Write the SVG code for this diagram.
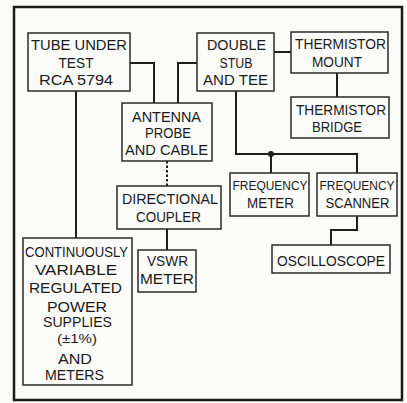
<svg xmlns="http://www.w3.org/2000/svg" width="407" height="403" viewBox="0 0 407 403">
<style>
.bg{fill:#fbfbf9}
.frame{fill:none;stroke:#1a1a1a;stroke-width:2.5}
.box{fill:#fbfbf9;stroke:#2a2a2a;stroke-width:1.5}
.ln{fill:none;stroke:#1e1e1e;stroke-width:2}
.dot{fill:none;stroke:#1e1e1e;stroke-width:2;stroke-dasharray:2.5 2}
text{font-family:"Liberation Sans",Arial,sans-serif;font-size:14.5px;fill:#1a1a1a;text-anchor:middle}
.sm{font-size:12.5px}
</style>
<rect class="bg" x="0" y="0" width="407" height="403"/>
<rect class="frame" x="14" y="7" width="388" height="393"/>
<g id="connectors">
<polyline class="ln" points="130,63 154,63 154,103"/>
<polyline class="ln" points="178,103 178,63 197,63"/>
<line class="ln" x1="76" y1="91" x2="76" y2="238"/>
<line class="dot" x1="167" y1="161" x2="167" y2="186"/>
<line class="ln" x1="167" y1="229" x2="167" y2="250"/>
<line class="ln" x1="274" y1="52" x2="291" y2="52"/>
<line class="ln" x1="337" y1="73" x2="337" y2="97"/>
<polyline class="ln" points="236,91 236,154 357,154 357,173"/>
<line class="ln" x1="271" y1="154" x2="271" y2="173"/>
<circle cx="271" cy="154" r="3" fill="#1e1e1e"/>
<polyline class="ln" points="357,216 357,230 331,230 331,245"/>
</g>
<g id="tube">
<rect class="box" x="28" y="33" width="102" height="58"/>
<text x="79" y="50" textLength="96" lengthAdjust="spacingAndGlyphs">TUBE UNDER</text>
<text x="76" y="68" textLength="35" lengthAdjust="spacingAndGlyphs">TEST</text>
<text x="76" y="85" textLength="74" lengthAdjust="spacingAndGlyphs">RCA 5794</text>
</g>
<g id="antenna">
<rect class="box" x="122" y="103" width="90" height="58"/>
<text x="166.5" y="122" textLength="69" lengthAdjust="spacingAndGlyphs">ANTENNA</text>
<text x="168" y="138" textLength="46" lengthAdjust="spacingAndGlyphs">PROBE</text>
<text x="166.5" y="155" textLength="83" lengthAdjust="spacingAndGlyphs">AND CABLE</text>
</g>
<g id="coupler">
<rect class="box" x="117" y="186" width="104" height="43"/>
<text x="170" y="204" textLength="96" lengthAdjust="spacingAndGlyphs">DIRECTIONAL</text>
<text x="168.5" y="222" textLength="65" lengthAdjust="spacingAndGlyphs">COUPLER</text>
</g>
<g id="vswr">
<rect class="box" x="138" y="250" width="58" height="42"/>
<text x="167.5" y="266" textLength="41" lengthAdjust="spacingAndGlyphs">VSWR</text>
<text x="167" y="284" textLength="54" lengthAdjust="spacingAndGlyphs">METER</text>
</g>
<g id="power">
<rect class="box" x="23" y="238" width="109" height="147"/>
<text x="76.5" y="257" textLength="103" lengthAdjust="spacingAndGlyphs">CONTINUOUSLY</text>
<text x="76" y="275" textLength="82" lengthAdjust="spacingAndGlyphs">VARIABLE</text>
<text x="75.5" y="293" textLength="93" lengthAdjust="spacingAndGlyphs">REGULATED</text>
<text x="77" y="312" textLength="60" lengthAdjust="spacingAndGlyphs">POWER</text>
<text x="77.5" y="327" textLength="69" lengthAdjust="spacingAndGlyphs">SUPPLIES</text>
<text x="77" y="343" style="font-size:12px" textLength="40" lengthAdjust="spacingAndGlyphs">(±1%)</text>
<text x="75" y="364" textLength="34" lengthAdjust="spacingAndGlyphs">AND</text>
<text x="74.5" y="380" textLength="59" lengthAdjust="spacingAndGlyphs">METERS</text>
</g>
<g id="stub">
<rect class="box" x="197" y="33" width="77" height="58"/>
<text x="236.5" y="50" textLength="59" lengthAdjust="spacingAndGlyphs">DOUBLE</text>
<text x="236" y="68" textLength="33" lengthAdjust="spacingAndGlyphs">STUB</text>
<text x="235.5" y="85" textLength="65" lengthAdjust="spacingAndGlyphs">AND TEE</text>
</g>
<g id="mount">
<rect class="box" x="291" y="32" width="97" height="41"/>
<text x="340.5" y="49" textLength="91" lengthAdjust="spacingAndGlyphs">THERMISTOR</text>
<text x="337" y="67" textLength="50" lengthAdjust="spacingAndGlyphs">MOUNT</text>
</g>
<g id="bridge">
<rect class="box" x="291" y="97" width="98" height="41"/>
<text x="341" y="115" textLength="90" lengthAdjust="spacingAndGlyphs">THERMISTOR</text>
<text x="337" y="132" textLength="50" lengthAdjust="spacingAndGlyphs">BRIDGE</text>
</g>
<g id="freqmeter">
<rect class="box" x="230" y="173" width="79" height="43"/>
<text class="sm" x="270" y="190" textLength="75" lengthAdjust="spacingAndGlyphs">FREQUENCY</text>
<text x="270.5" y="208" textLength="47" lengthAdjust="spacingAndGlyphs">METER</text>
</g>
<g id="freqscanner">
<rect class="box" x="317" y="173" width="80" height="43"/>
<text class="sm" x="357" y="190" textLength="75" lengthAdjust="spacingAndGlyphs">FREQUENCY</text>
<text x="357.5" y="208" textLength="64" lengthAdjust="spacingAndGlyphs">SCANNER</text>
</g>
<g id="oscilloscope">
<rect class="box" x="272" y="245" width="118" height="28"/>
<text x="331" y="266" textLength="108" lengthAdjust="spacingAndGlyphs">OSCILLOSCOPE</text>
</g>
</svg>
